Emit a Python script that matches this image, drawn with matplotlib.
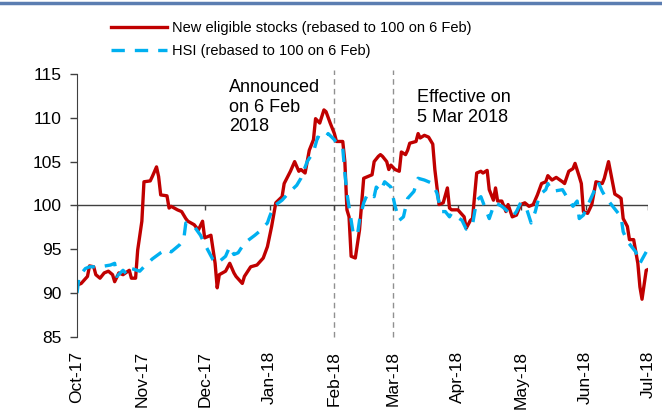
import numpy as np
import matplotlib
matplotlib.use("Agg")
import matplotlib.pyplot as plt
import matplotlib.dates as mdates
from matplotlib.lines import Line2D

plt.rcParams['font.family'] = ['Liberation Sans', 'DejaVu Sans']

# days since 1 Oct 2017
start = np.datetime64('2017-10-01')

new_days = [0, 2, 5, 6, 8, 9, 11, 13, 15, 17, 18, 20, 22, 25, 26, 28, 29, 31, 32, 35,
            36, 38, 39, 40, 43, 44, 45, 48, 50, 52, 53, 56, 58, 60, 61, 64, 66, 67, 68, 71,
            73, 75, 76, 79, 80, 83, 86, 89, 91, 93, 95, 98, 99, 102, 104, 106, 107, 109, 111, 113,
            114, 116, 118, 119, 121, 123, 124, 127, 128, 129, 130, 131, 133, 135, 137, 139, 141, 142, 144, 145,
            146, 148, 149, 150, 152, 154, 155, 157, 158, 159, 162, 163, 164, 166, 168, 170, 171, 173, 175, 177,
            178, 179, 182, 185, 186, 188, 189, 191, 193, 194, 196, 197, 199, 200, 201, 203, 205, 206, 208, 210,
            212, 214, 216, 218, 220, 222, 224, 225, 227, 229, 232, 233, 235, 237, 238, 240, 241, 242, 244, 246,
            248, 251, 252, 254, 256, 257, 259, 260, 261, 263, 264, 266, 268, 269, 270, 272, 273]
new_vals = [90.9, 91.1, 91.9, 93.1, 93.0, 92.1, 91.7, 92.3, 92.5, 92.1, 91.3, 92.3, 92.1, 92.6, 91.7, 91.7, 94.9, 98.2, 102.7, 102.8,
            103.3, 104.4, 103.3, 101.2, 101.1, 99.7, 99.9, 99.5, 99.3, 98.5, 98.2, 97.8, 97.2, 98.2, 96.3, 96.6, 93.4, 90.6, 92.1, 92.5,
            93.4, 92.3, 91.9, 91.1, 91.9, 93.0, 93.2, 94.0, 95.3, 97.6, 100.3, 101.0, 102.5, 103.9, 105.0, 103.9, 104.1, 103.7, 106.3, 107.5,
            109.9, 109.4, 110.9, 110.7, 109.4, 108.2, 107.3, 107.3, 105.0, 99.5, 98.7, 94.2, 94.0, 97.2, 103.1, 103.3, 103.5, 105.0, 105.6, 105.8,
            105.6, 105.0, 104.1, 104.6, 104.1, 103.9, 106.1, 105.8, 106.3, 107.1, 107.3, 108.2, 107.7, 108.0, 107.8, 107.0, 104.1, 100.1, 100.3, 102.0,
            99.7, 99.5, 99.5, 98.7, 97.4, 98.3, 98.5, 103.7, 103.9, 103.7, 104.0, 101.8, 100.6, 102.0, 100.5, 100.5, 99.3, 100.1, 98.7, 98.9,
            100.1, 100.3, 99.9, 100.1, 101.2, 102.5, 102.7, 103.4, 102.9, 103.2, 102.7, 102.5, 103.9, 104.2, 104.8, 103.3, 102.5, 99.3, 99.1, 100.1,
            102.7, 102.5, 103.1, 105.0, 102.5, 101.3, 101.0, 100.8, 98.5, 97.6, 96.1, 96.1, 93.4, 90.7, 89.3, 92.6, 92.7]

hsi_days = [0, 1, 4, 6, 11, 16, 18, 19, 22, 24, 26, 30, 32, 36, 40, 43, 45, 49, 51, 52,
            56, 59, 61, 65, 67, 68, 71, 73, 75, 77, 80, 85, 87, 91, 92, 94, 98, 101, 105, 107,
            110, 113, 115, 118, 120, 123, 124, 127, 128, 129, 131, 132, 134, 135, 137, 139, 142, 143, 145, 147,
            150, 152, 154, 156, 158, 161, 163, 166, 170, 172, 174, 176, 178, 179, 184, 186, 187, 189, 191, 193,
            197, 199, 200, 203, 205, 208, 210, 212, 215, 217, 219, 221, 224, 225, 227, 232, 234, 237, 239, 240,
            242, 245, 248, 249, 251, 253, 256, 260, 261, 263, 265, 267, 269, 272]
hsi_vals = [90.0, 91.9, 92.8, 93.0, 93.0, 93.2, 93.4, 91.9, 92.6, 92.1, 92.8, 92.5, 93.0, 93.9, 94.6, 95.0, 94.7, 95.5, 96.1, 98.0,
            97.6, 96.6, 95.6, 93.8, 93.4, 93.6, 94.2, 95.3, 94.4, 94.6, 95.7, 96.6, 97.0, 98.0, 98.7, 99.9, 100.6, 101.4, 102.3, 103.1,
            105.0, 106.1, 107.8, 107.5, 108.2, 107.5, 107.1, 106.5, 103.7, 101.4, 98.3, 96.8, 96.6, 98.3, 100.3, 101.4, 101.0, 102.1, 101.6, 102.7,
            102.1, 99.9, 98.3, 98.7, 100.8, 101.6, 103.1, 102.9, 102.5, 101.4, 99.3, 99.3, 98.7, 99.1, 98.3, 97.3, 97.4, 97.8, 100.6, 101.0,
            98.5, 99.9, 100.3, 99.9, 99.5, 98.7, 99.3, 100.3, 99.5, 98.0, 99.3, 101.2, 101.8, 102.5, 101.6, 101.8, 101.0, 99.9, 100.5, 98.5,
            98.9, 100.5, 102.1, 102.7, 101.6, 100.8, 99.9, 98.7, 97.0, 95.9, 95.3, 94.7, 93.4, 94.7]

month_ticks = ['2017-10-01', '2017-11-01', '2017-12-01', '2018-01-01', '2018-02-01',
               '2018-03-01', '2018-04-01', '2018-05-01', '2018-06-01', '2018-07-01']
event_lines = ['2018-02-01', '2018-03-01']

new_dates = start + np.array(new_days).astype('timedelta64[D]')
hsi_dates = start + np.array(hsi_days).astype('timedelta64[D]')
ticks = np.array(month_ticks, dtype='datetime64[D]')
events = np.array(event_lines, dtype='datetime64[D]')

fig = plt.figure(figsize=(6.62, 4.18), dpi=100)
ax = fig.add_axes([0.1163, 0.194, 0.863, 0.629])

red = '#C00000'
blue = '#00B0F0'

ax.plot(new_dates, new_vals, color=red, lw=2.4, solid_joinstyle='round')
ax.plot(hsi_dates, hsi_vals, color=blue, lw=2.4, dashes=(4, 3), dash_capstyle='butt')

# horizontal axis line at 100 with small month ticks
ax.axhline(100, color='#404040', lw=1.0, zorder=1)
ax.vlines(ticks, 99.45, 100, color='#404040', lw=1.0, zorder=1)

# event markers
ax.vlines(events, 85, 115.5, color='#909090', lw=1.0, linestyles=(0, (4, 3)), clip_on=False, zorder=0)

ax.set_xlim(ticks[0], ticks[-1])
ax.set_ylim(85, 115)
ax.set_yticks([85, 90, 95, 100, 105, 110, 115])
ax.set_xticks(ticks)
ax.xaxis.set_major_formatter(mdates.DateFormatter('%b-%y'))
ax.tick_params(axis='x', length=0, rotation=90, labelsize=12.5, pad=10)
ax.tick_params(axis='y', length=5, width=1, color='#404040', labelsize=12.5, pad=6)

for s in ['top', 'right', 'bottom']:
    ax.spines[s].set_visible(False)
ax.spines['left'].set_color('#404040')

fig.text(0.346, 0.811, 'Announced\non 6 Feb\n2018', fontsize=13, va='top', ha='left', linespacing=1.2)
fig.text(0.630, 0.786, 'Effective on\n5 Mar 2018', fontsize=13, va='top', ha='left', linespacing=1.2)

handles = [Line2D([], [], color=red, lw=2.4),
           Line2D([], [], color=blue, lw=2.4, dashes=(4, 3))]
labels = ['New eligible stocks (rebased to 100 on 6 Feb)', 'HSI (rebased to 100 on 6 Feb)']
fig.legend(handles, labels, loc='upper left', bbox_to_anchor=(0.159, 0.964),
           frameon=False, fontsize=10.5, handlelength=3.8, handletextpad=0.35,
           labelspacing=0.65, borderaxespad=0)

# top rule
fig.add_artist(Line2D([0, 1], [0.993, 0.993], color='#5B7DB1', lw=2.5,
                      transform=fig.transFigure))

fig.savefig('out.png', dpi=100)
